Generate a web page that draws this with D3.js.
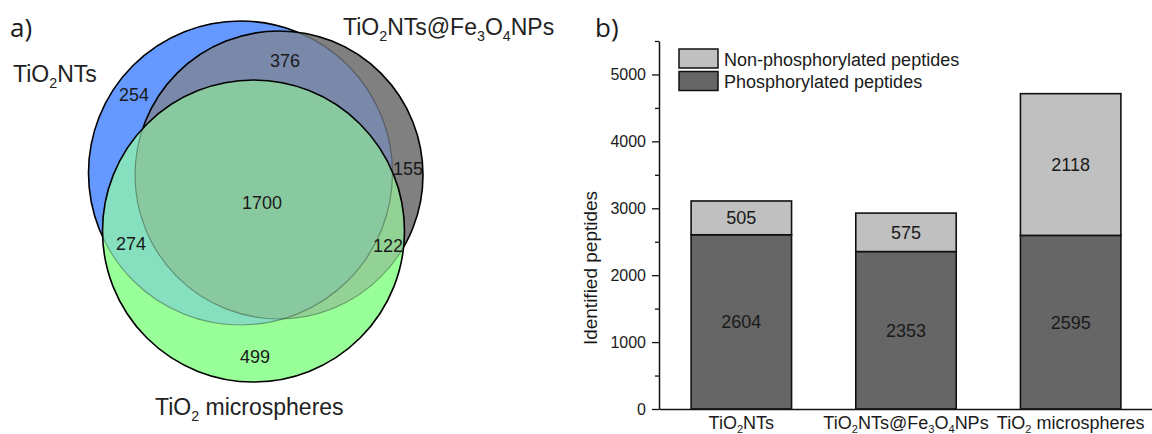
<!DOCTYPE html>
<html>
<head>
<meta charset="utf-8">
<script src="https://cdn.jsdelivr.net/npm/d3@7"></script>
<style>
  body { margin: 0; background: #fff; }
  svg { display: block; }
</style>
</head>
<body>
<div id="wrapper"></div>
<script>
// venn data (A = TiO2NTs, B = TiO2NTs@Fe3O4NPs, C = TiO2 microspheres)
const vennSetNames = ["TiO_2NTs", "TiO_2NTs@Fe_3O_4NPs", "TiO_2 microspheres"]
const vennRegionKeys = ["A", "B", "C", "AB", "AC", "BC", "ABC"]
const vennRegionCounts = [254, 155, 499, 376, 274, 122, 1700]

// stacked bar data
const categories = ["TiO_2NTs", "TiO_2NTs@Fe_3O_4NPs", "TiO_2 microspheres"]
const phosphorylated = [2604, 2353, 2595]
const nonPhosphorylated = [505, 575, 2118]
const seriesNames = ["Phosphorylated peptides", "Non-phosphorylated peptides"]
const yTickValues = [0, 1000, 2000, 3000, 4000, 5000]
const yMinorTickValues = [500, 1500, 2500, 3500, 4500, 5500]

const textColor = "#1a1a1a"
const font = "'Liberation Sans', Arial, Helvetica, sans-serif"

const svg = d3.select("#wrapper")
  .append("svg")
    .attr("width", 1152)
    .attr("height", 434)
    .attr("font-family", font)

svg.append("rect")
    .attr("width", 1152)
    .attr("height", 434)
    .attr("fill", "#fff")

// writes "TiO_2NTs" style strings with small lowered digits
function richText(sel, str, size) {
  const sub = size * 0.62
  const shift = size * 0.24
  str.split(/(_\d)/).filter(p => p).forEach(p => {
    if (p[0] == "_") {
      sel.append("tspan").attr("font-size", sub).attr("dy", shift).text(p[1])
    } else {
      const t = sel.append("tspan").text(p)
      if (sel.selectAll("tspan").size() > 1) t.attr("dy", -shift)
    }
  })
}

// ---------- a) venn ----------
const circles = [
  {key: "A", cx: 240.5, cy: 173, r: 152, fill: "#6699ff"},
  {key: "B", cx: 279, cy: 175, r: 144, fill: "#808080"},
  {key: "C", cx: 253.5, cy: 231, r: 151, fill: "#99ff99"},
]
const regionFill = {AB: "#7a89aa", AC: "#86dfbe", BC: "#92d294", ABC: "#89c9a0"}
const byKey = Object.fromEntries(circles.map(c => [c.key, c]))

const defs = svg.append("defs")
circles.forEach(c => {
  defs.append("clipPath").attr("id", "clip" + c.key)
    .append("circle").attr("cx", c.cx).attr("cy", c.cy).attr("r", c.r)
})

const venn = svg.append("g")
function disc(parent, c, fill, stroke, width, opacity) {
  return parent.append("circle")
      .attr("cx", c.cx).attr("cy", c.cy).attr("r", c.r)
      .attr("fill", fill || "none")
      .attr("stroke", stroke || "none")
      .attr("stroke-width", width || 0)
      .attr("stroke-opacity", opacity == null ? 1 : opacity)
}
const A = byKey.A, B = byKey.B, C = byKey.C

disc(venn, A, A.fill, "#000", 1.6)

disc(venn, B, B.fill)
disc(venn.append("g").attr("clip-path", "url(#clipA)"), B, regionFill.AB)
disc(venn.append("g").attr("clip-path", "url(#clipB)"), A, null, "#000", 1.2, 0.3)
disc(venn, B, null, "#000", 1.6)

disc(venn, C, C.fill)
disc(venn.append("g").attr("clip-path", "url(#clipA)"), C, regionFill.AC)
disc(venn.append("g").attr("clip-path", "url(#clipB)"), C, regionFill.BC)
disc(venn.append("g").attr("clip-path", "url(#clipA)")
  .append("g").attr("clip-path", "url(#clipB)"), C, regionFill.ABC)
const faintC = venn.append("g").attr("clip-path", "url(#clipC)")
disc(faintC, A, null, "#000", 1.2, 0.3)
disc(faintC, B, null, "#000", 1.2, 0.3)
disc(venn, C, null, "#000", 1.6)

const regionLabelPos = {
  A: [134, 101], AB: [285, 67], B: [408, 175], ABC: [262, 209],
  AC: [131, 250], BC: [388, 252], C: [255, 363],
}
venn.selectAll(".count")
  .data(vennRegionKeys.map((k, i) => ({key: k, value: vennRegionCounts[i]})))
  .join("text")
    .attr("class", "count")
    .attr("x", d => regionLabelPos[d.key][0])
    .attr("y", d => regionLabelPos[d.key][1])
    .attr("text-anchor", "middle")
    .attr("font-size", 18)
    .attr("fill", textColor)
    .text(d => d.value)

const setLabelPos = [[13, 82], [343, 35], [155, 415]]
vennSetNames.forEach((name, i) => {
  const t = svg.append("text")
      .attr("x", setLabelPos[i][0])
      .attr("y", setLabelPos[i][1])
      .attr("font-size", 23)
      .attr("fill", "#222")
  richText(t, name, 23)
})

svg.append("text")
    .attr("x", 10).attr("y", 37)
    .attr("font-family", "'Open Sans', sans-serif")
    .attr("font-size", 26)
    .attr("fill", textColor)
    .text("a)")

// ---------- b) stacked bars ----------
svg.append("text")
    .attr("x", 595).attr("y", 37)
    .attr("font-family", "'Open Sans', sans-serif")
    .attr("font-size", 26)
    .attr("fill", textColor)
    .text("b)")

const dataset = categories.map((c, i) => ({
  category: c,
  phos: phosphorylated[i],
  nonphos: nonPhosphorylated[i],
}))

const xScale = d3.scaleBand()
  .domain(categories)
  .range([659, 1153])
  .paddingInner(0.39)
  .paddingOuter(0.195)

const yScale = d3.scaleLinear()
  .domain([0, 5500])
  .range([409, 41])

const stack = d3.stack().keys(["phos", "nonphos"])(dataset)
const barFill = {phos: "#666666", nonphos: "#c0c0c0"}

const bars = svg.append("g")
stack.forEach(layer => {
  bars.append("g").selectAll("rect")
    .data(layer)
    .join("rect")
      .attr("x", d => xScale(d.data.category))
      .attr("width", xScale.bandwidth())
      .attr("y", d => yScale(d[1]))
      .attr("height", d => yScale(d[0]) - yScale(d[1]))
      .attr("fill", barFill[layer.key])
      .attr("stroke", "#111")
      .attr("stroke-width", 1.6)
  bars.append("g").selectAll("text")
    .data(layer)
    .join("text")
      .attr("x", d => xScale(d.data.category) + xScale.bandwidth() / 2)
      .attr("y", d => (yScale(d[0]) + yScale(d[1])) / 2)
      .attr("dy", "0.36em")
      .attr("text-anchor", "middle")
      .attr("font-size", 18)
      .attr("fill", textColor)
      .text(d => d[1] - d[0])
})

// axes
const yAxis = svg.append("g")
    .attr("transform", "translate(659,0)")
    .call(d3.axisLeft(yScale)
      .tickValues(yTickValues)
      .tickFormat(d3.format("d"))
      .tickSize(7).tickSizeOuter(0).tickPadding(6))
    .attr("font-family", font)
yAxis.selectAll("text").attr("font-size", 16).attr("fill", textColor)
yAxis.selectAll("line").attr("stroke", "#111").attr("stroke-width", 1.3)
yAxis.select(".domain").attr("stroke", "#111").attr("stroke-width", 1.5)

const yMinor = svg.append("g")
    .attr("transform", "translate(659,0)")
    .call(d3.axisLeft(yScale).tickValues(yMinorTickValues).tickSize(4).tickFormat(""))
yMinor.select(".domain").remove()
yMinor.selectAll("line").attr("stroke", "#111").attr("stroke-width", 1.3)

const xAxis = svg.append("g")
    .attr("transform", "translate(0,409)")
    .call(d3.axisBottom(xScale).tickSize(0).tickSizeOuter(0).tickPadding(7))
    .attr("font-family", font)
xAxis.select(".domain").attr("stroke", "#111").attr("stroke-width", 1.5)
xAxis.selectAll("text")
    .attr("font-size", 18)
    .attr("fill", textColor)
    .each(function(d) {
      const t = d3.select(this).text("")
      richText(t, d, 18)
    })

svg.append("text")
    .attr("transform", "rotate(-90)")
    .attr("x", -268)
    .attr("y", 597)
    .attr("text-anchor", "middle")
    .attr("font-size", 19)
    .attr("fill", textColor)
    .text("Identified peptides")

// legend (non-phosphorylated on top)
const legend = svg.append("g")
const legendKeys = ["nonphos", "phos"]
legendKeys.forEach((k, i) => {
  legend.append("rect")
      .attr("x", 679).attr("y", 49 + i * 22.5)
      .attr("width", 39).attr("height", 19)
      .attr("fill", barFill[k])
      .attr("stroke", "#111")
      .attr("stroke-width", 1.5)
  legend.append("text")
      .attr("x", 724).attr("y", 65.5 + i * 22)
      .attr("font-size", 18)
      .attr("fill", textColor)
      .text(seriesNames[k == "phos" ? 0 : 1])
})
</script>
</body>
</html>
